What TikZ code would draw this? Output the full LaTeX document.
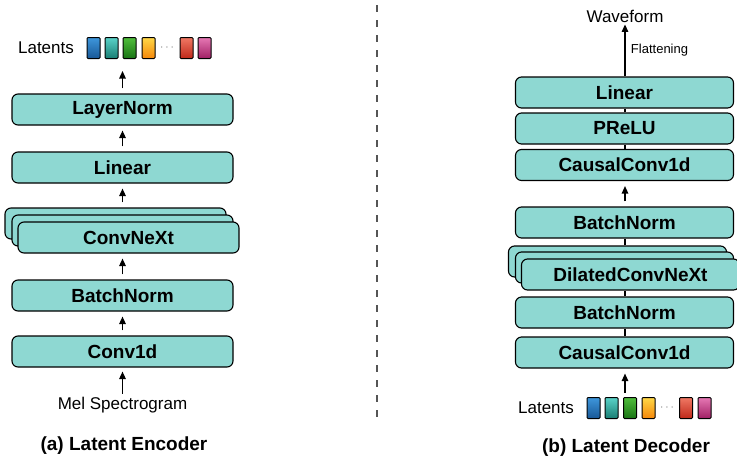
\documentclass[tikz,border=0pt]{standalone}
\usepackage{fontspec}
\setmainfont{Liberation Sans}
\usetikzlibrary{arrows.meta}
\definecolor{boxfill}{RGB}{142,216,210}
\definecolor{divgray}{RGB}{85,85,85}
\definecolor{bluetop}{RGB}{62,150,220}
\definecolor{bluebot}{RGB}{24,88,150}
\definecolor{tealtop}{RGB}{90,210,200}
\definecolor{tealbot}{RGB}{25,125,115}
\definecolor{greentop}{RGB}{80,190,60}
\definecolor{greenbot}{RGB}{25,115,20}
\definecolor{orgtop}{RGB}{255,215,70}
\definecolor{orgbot}{RGB}{245,135,10}
\definecolor{redtop}{RGB}{240,120,100}
\definecolor{redbot}{RGB}{190,40,25}
\definecolor{pinktop}{RGB}{230,120,180}
\definecolor{pinkbot}{RGB}{160,30,100}
\begin{document}
\begin{tikzpicture}[x=1pt,y=-1pt,
  blk/.style={draw=black, line width=1.1pt, fill=boxfill, rounded corners=6pt,
    minimum width=221pt, minimum height=31pt, inner sep=0pt,
    font=\fontsize{19}{19}\selectfont\bfseries},
  dblk/.style={blk, minimum width=218pt},
  arr/.style={-{Triangle[length=7.5pt,width=6.5pt]}, line width=1.3pt},
  lnk/.style={line width=1.3pt},
  lat/.style 2 args={draw=black, line width=1pt, rounded corners=1pt,
    minimum width=13pt, minimum height=21pt, inner sep=0pt,
    top color=#1, bottom color=#2},
  lbl/.style={font=\fontsize{17}{17}\selectfont, inner sep=2pt},
  captxt/.style={font=\fontsize{19}{19}\selectfont\bfseries},
  latdots/.style={text=gray, inner sep=0pt, font=\fontsize{12}{12}\selectfont}
]
\useasboundingbox (0,0) rectangle (737,459);

% ---------------- Encoder ----------------
\node[lbl] (elat) at (46,48) {Latents};
\node[lat={bluetop}{bluebot}] (ea1) at (93.5,48) {};
\node[lat={tealtop}{tealbot}] (ea2) at (111.5,48) {};
\node[lat={greentop}{greenbot}] (ea3) at (129.5,48) {};
\node[lat={orgtop}{orgbot}] (ea4) at (148.5,48) {};
\node[latdots] (edots) at (167,48) {$\cdots$};
\node[lat={redtop}{redbot}] (ea5) at (186.5,48) {};
\node[lat={pinktop}{pinkbot}] (ea6) at (204.5,48) {};
\coordinate (eout) at (122.5,71);

\node[blk] (lnorm) at (122.5,109.5) {LayerNorm};
\node[blk] (elin) at (122.5,167.5) {Linear};
\node[blk] (cnb) at (115.5,223.5) {};
\node[blk] (cnm) at (122.5,230.5) {};
\node[blk] (cnf) at (128.5,237.5) {ConvNeXt};
\node[blk] (ebn) at (122.5,295.5) {BatchNorm};
\node[blk] (econv) at (122.5,351.5) {Conv1d};
\node[lbl] (mel) at (122.5,405) {Mel Spectrogram};
\node[captxt] (capa) at (124,446) {(a) Latent Encoder};

\draw[arr] ([yshift=1pt]mel.north) -- ([yshift=-4pt]econv.south);
\draw[arr] ([yshift=5pt]econv.north) -- ([yshift=-5pt]econv.north |- ebn.south);
\draw[arr] ([yshift=5pt]ebn.north) -- ([yshift=-5pt]ebn.north |- cnf.south);
\draw[arr] ([yshift=5pt]cnb.north -| elin.south) -- ([yshift=-5pt]elin.south);
\draw[arr] ([yshift=5pt]elin.north) -- ([yshift=-5pt]lnorm.south);
\draw[arr] ([yshift=5pt]lnorm.north) -- (eout);

% ---------------- Divider ----------------
\draw[divgray, line width=1.4pt, dash pattern=on 7pt off 8pt] (377,5) -- (377,423);

% ---------------- Decoder ----------------
\node[lbl] (wave) at (625,16) {Waveform};
\node[dblk] (dlin) at (624.5,92.5) {Linear};
\node[dblk] (dprelu) at (624.5,128.5) {PReLU};
\node[dblk] (dcc1) at (624.5,165) {CausalConv1d};
\node[dblk] (dbn1) at (624.5,222.5) {BatchNorm};
\node[dblk] (dnb) at (617.5,261.5) {};
\node[dblk] (dnm) at (624.5,267.5) {};
\node[dblk] (dnf) at (630.5,274.5) {DilatedConvNeXt};
\node[dblk] (dbn2) at (624.5,312.5) {BatchNorm};
\node[dblk] (dcc2) at (624.5,352.5) {CausalConv1d};

\node[lbl] (dlat) at (546,408) {Latents};
\node[lat={bluetop}{bluebot}] (da1) at (593.5,408) {};
\node[lat={tealtop}{tealbot}] (da2) at (611.5,408) {};
\node[lat={greentop}{greenbot}] (da3) at (630,408) {};
\node[lat={orgtop}{orgbot}] (da4) at (648.5,408) {};
\node[latdots] (ddots) at (667,408) {$\cdots$};
\node[lat={redtop}{redbot}] (da5) at (686,408) {};
\node[lat={pinktop}{pinkbot}] (da6) at (704.5,408) {};
\coordinate (din) at (625,393);
\node[captxt] (capb) at (626,448) {(b) Latent Decoder};

\draw[arr] (din) -- ([yshift=-5pt]din |- dcc2.south);
\draw[lnk] (din |- dcc2.north) -- (din |- dbn2.south);
\draw[lnk] (din |- dbn2.north) -- (din |- dnf.south);
\draw[lnk] (din |- dnb.north) -- (din |- dbn1.south);
\draw[arr] ([yshift=5pt]din |- dbn1.north) -- ([yshift=-5pt]din |- dcc1.south);
\draw[lnk] (din |- dcc1.north) -- (din |- dprelu.south);
\draw[lnk] (din |- dprelu.north) -- (din |- dlin.south);
\draw[arr] (din |- dlin.north) -- (din |- wave.south)
  node[midway, right=2pt, font=\fontsize{13}{13}\selectfont] (flat) {Flattening};
\end{tikzpicture}
\end{document}
